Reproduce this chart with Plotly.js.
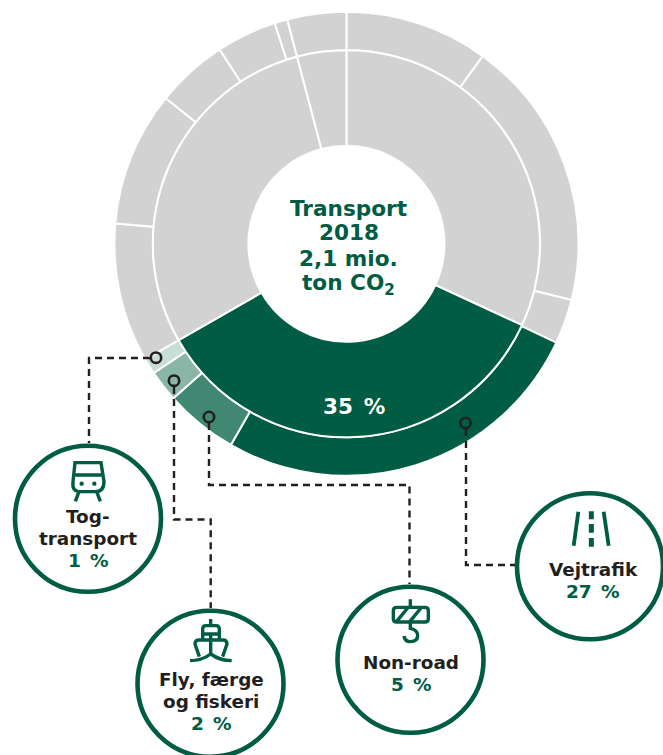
<!DOCTYPE html>
<html><head><meta charset="utf-8">
<script src="https://cdn.plot.ly/plotly-3.0.1.min.js"></script>
<style>html,body{margin:0;padding:0;background:#fff;overflow:hidden}#c{width:663px;height:755px}</style>
</head><body><div id="c"></div>
<script>
// Data: share of transport CO2, percent, clockwise from 12 o'clock
const innerLabels = ["Andet A","Transport","Andet B","Andet C"];
const innerValues = [31.9,34.8,29.2,4.1];
const outerLabels = ["A1","A2","A3","Vejtrafik","Non-road","Fly, færge og fiskeri","Togtransport","B1","B2","B3","B4","B5","C1"];
const outerValues = [10,18.9,3.1,26.3,5.1,2.2,1.1,9.7,9.4,5.0,4.2,0.9,4.1];

// Styles
const GREY="#D2D2D2", DARK="#005C42", MID="#418873", SOFT="#8AB6A8", PALE="#C7DDD5", INK="#231F20";
const innerColors=[GREY,DARK,GREY,GREY];
const outerColors=[GREY,GREY,GREY,DARK,MID,SOFT,PALE,GREY,GREY,GREY,GREY,GREY,GREY];

const W=663,H=755,CX=346.4,CY=243.8,R_OUT=232,R_MID=193.5,R_HOLE=98;
const fx=x=>x/W, fy=y=>1-y/H;
const dom=r=>({x:[fx(CX-r),fx(CX+r)],y:[fy(CY+r),fy(CY-r)]});
const pie=(labels,values,colors,r,hole)=>({type:"pie",labels,values,domain:dom(r),hole,sort:false,direction:"clockwise",rotation:0,
  textinfo:"none",hoverinfo:"skip",showlegend:false,marker:{colors,line:{color:"#fff",width:2}}});

const shapes=[],annotations=[];
const FONT='"DejaVu Sans",Verdana,sans-serif';
function text(t,x,y,size,color){annotations.push({text:"<b>"+t+"</b>",xref:"paper",yref:"paper",x:fx(x),y:fy(y),xanchor:"center",yanchor:"middle",showarrow:false,font:{family:FONT,size,color}});}
function circle(x,y,r,color,width){shapes.push({type:"circle",xref:"paper",yref:"paper",x0:fx(x-r),x1:fx(x+r),y0:fy(y-r),y1:fy(y+r),line:{color,width},fillcolor:"rgba(0,0,0,0)",layer:"above"});}
function dot(x,y,r,color){shapes.push({type:"circle",xref:"paper",yref:"paper",x0:fx(x-r),x1:fx(x+r),y0:fy(y-r),y1:fy(y+r),line:{width:0},fillcolor:color,layer:"above"});}
function leader(pts){shapes.push({type:"path",xref:"paper",yref:"paper",path:"M"+pts.map(p=>fx(p[0])+","+fy(p[1])).join(" L"),line:{color:INK,width:2.4,dash:"7px,5px"},fillcolor:"rgba(0,0,0,0)",layer:"above"});}
// icon paths are written in 3x crop coordinates
function icon(d,ox,oy,width,fill){const path=d.replace(/(-?[\d.]+),(-?[\d.]+)/g,(m,a,b)=>fx(ox+a/3)+","+fy(oy+b/3));
  shapes.push({type:"path",xref:"paper",yref:"paper",path,line:{color:DARK,width:width},fillcolor:fill||"rgba(0,0,0,0)",layer:"above"});}

// Bubbles
[[88,518.7],[210.5,683.7],[410.5,659.7],[590,566.3]].forEach(c=>circle(c[0],c[1],73,DARK,4.6));
// Leaders
leader([[150,358],[89,358],[89,443]]);
leader([[174,387],[174,519.5],[210.7,519.5],[210.7,608]]);
leader([[209,423],[209,485],[409.5,485],[409.5,584]]);
leader([[466,429],[466,565],[515,565]]);
[[156,357.7],[174,380.7],[209,417],[465.5,423]].forEach(c=>circle(c[0],c[1],5.2,INK,2.6));

// Train
icon("M225,68 L303,68 L312,125 Q312,155 285,155 L242,155 Q215,155 219,125 Z M222,105 L306,105 M237,155 L226,184 M290,155 L301,184",0,440,3.4);
dot(245/3,440+131/3,2.2,DARK);dot(283/3,440+131/3,2.2,DARK);
// Ship
icon("M632,537 L632,557 M608,595 L608,568 Q608,557 618,557 L648,557 Q658,557 658,568 L658,595 M608,582 L658,582 M632,582 L632,640 M598,650 L585,612 Q585,600 598,600 L668,600 Q681,600 681,612 L668,650 M570,662 Q605,662 632,642 Q660,662 695,662",0,440,3.4);
// Hook
icon("M241,358 L241,382 M200,382 L285,382 Q295,382 295,392 L295,416 Q295,426 285,426 L200,426 Q190,426 190,416 L190,392 Q190,382 200,382 Z M200,424 L233,384 M240,424 L273,384 M241,426 L241,445 Q263,450 263,466 Q263,485 242,485 Q224,485 222,468",330,480,3.4);
// Road
icon("M745,95 L731,197 M821,95 L836,197",330,480,3.8);
icon("M784,94 L784,118 M784,132 L784,158 M784,174 L784,200",330,480,5);

// Center text
const SP="\u2002";
text("Transport",348.5,208,21.6,DARK);
text("2018",348.5,233,21.6,DARK);
text("2,1 mio.",348.5,259,21.6,DARK);
text("ton CO<sub>2</sub>",348.5,285,21.6,DARK);
text("35"+SP+"%",354,406,21.5,"#fff");
// Labels
text("Tog-",88,516,18.4,INK);
text("transport",88,538,18.4,INK);
text("1"+SP+"%",88,560,18.5,DARK);
text("Fly, færge",211,679,18.4,INK);
text("og fiskeri",211,701,18.4,INK);
text("2"+SP+"%",211,723,18.5,DARK);
text("Non-road",411,662,18.4,INK);
text("5"+SP+"%",411,684,18.5,DARK);
text("Vejtrafik",593,569,18.4,INK);
text("27"+SP+"%",593,591,18.5,DARK);

Plotly.newPlot("c",[pie(outerLabels,outerValues,outerColors,R_OUT,R_MID/R_OUT),pie(innerLabels,innerValues,innerColors,R_MID,R_HOLE/R_MID)],
 {width:W,height:H,margin:{l:0,r:0,t:0,b:0},paper_bgcolor:"#fff",showlegend:false,shapes,annotations},{displayModeBar:false,staticPlot:true});
</script></body></html>
